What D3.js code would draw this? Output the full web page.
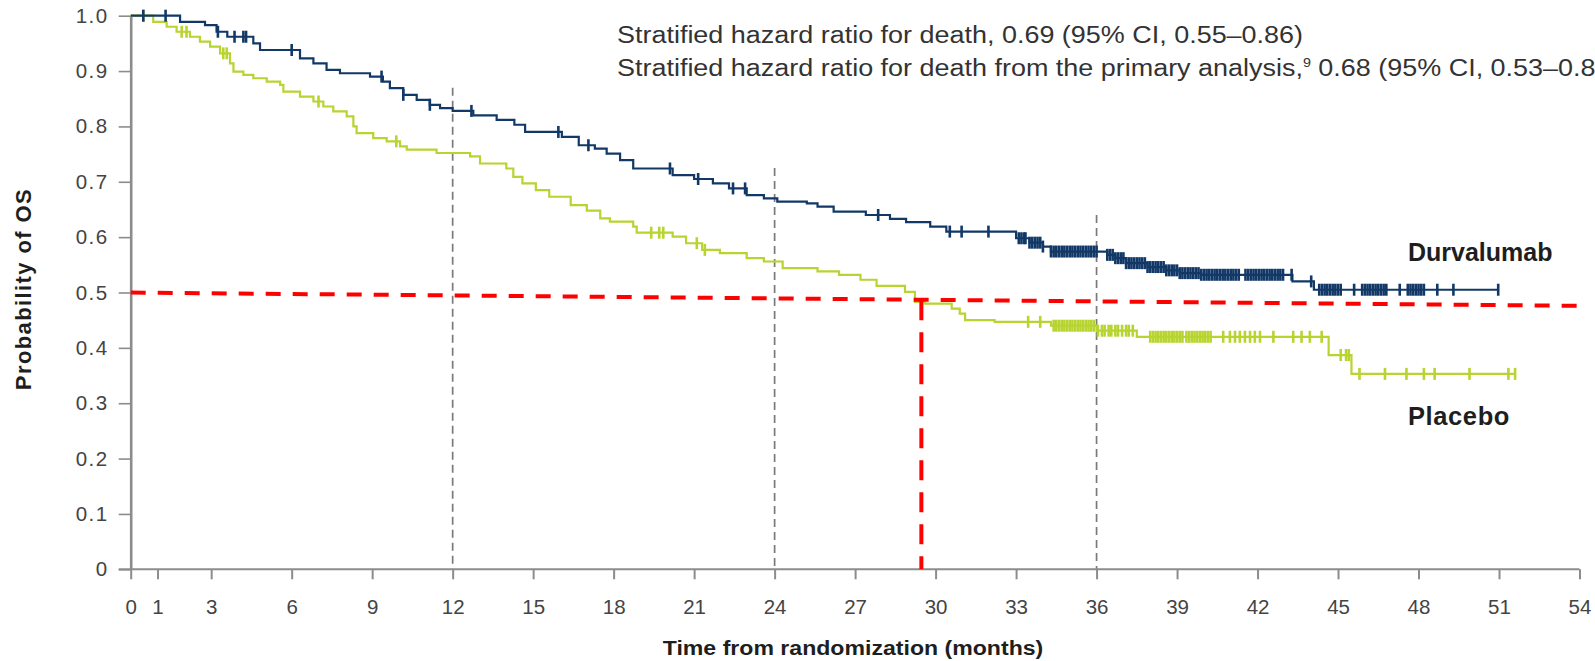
<!DOCTYPE html>
<html>
<head>
<meta charset="utf-8">
<script src="https://cdn.jsdelivr.net/npm/d3@7"></script>
<style>
  body { margin: 0; background: #fff; }
  text { font-family: "Liberation Sans", Arial, Helvetica, sans-serif; }
</style>
</head>
<body>
<svg id="chart"></svg>
<script>
const W = 1595, H = 661;

const xTicks = [0, 1, 3, 6, 9, 12, 15, 18, 21, 24, 27, 30, 33, 36, 39, 42, 45, 48, 51, 54];
const yTicks = [0, 0.1, 0.2, 0.3, 0.4, 0.5, 0.6, 0.7, 0.8, 0.9, 1.0];

// landmark months and where their dashed line starts (probability)
const landmarks = [12, 24, 36];
const landmarkTop = [0.87, 0.725, 0.64];

// [month, probability] after each step
const durvaSteps = [
  [0, 1.0], [1.84, 0.989], [2.77, 0.983], [3.2, 0.971], [3.6, 0.962], [4.57, 0.95], [4.82, 0.938],
  [6.31, 0.923], [6.81, 0.914], [7.3, 0.902], [7.8, 0.896], [8.92, 0.89], [9.4, 0.881], [9.66, 0.869],
  [10.16, 0.857], [10.66, 0.848], [11.15, 0.839], [11.53, 0.833], [12.0, 0.828], [12.77, 0.82],
  [13.64, 0.812], [14.3, 0.803], [14.7, 0.79], [16.07, 0.781], [16.7, 0.766], [17.3, 0.76],
  [17.74, 0.751], [18.24, 0.739], [18.73, 0.724], [20.2, 0.712], [21.0, 0.705], [21.7, 0.697],
  [22.3, 0.688], [22.96, 0.676], [23.6, 0.67], [24.1, 0.664], [25.2, 0.661], [25.6, 0.655],
  [26.2, 0.646], [27.4, 0.64], [28.3, 0.633], [28.9, 0.627], [29.8, 0.619], [30.4, 0.61],
  [33.0, 0.598], [33.5, 0.59], [34.0, 0.583], [34.3, 0.574], [36.4, 0.568], [36.7, 0.562],
  [37.1, 0.553], [37.9, 0.546], [38.6, 0.54], [39.1, 0.535], [39.9, 0.532], [43.3, 0.52], [44.1, 0.505]
];
const durvaEnd = 50.97;
const durvaCensor = [
  0.47, 1.3, 3.25, 3.87, 4.2, 4.3, 6.0, 9.35, 10.16, 11.15, 12.7, 15.94, 17.06, 20.1, 21.15, 22.45,
  22.9, 27.86, 30.53, 30.97, 31.97,
  33.1, 33.2, 33.3, 33.35, 33.5, 33.6, 33.7, 33.8, 33.9, 34.0,
  34.3, 34.4, 34.5, 34.6, 34.7, 34.8, 34.9, 35.0, 35.1, 35.2, 35.3, 35.4, 35.5, 35.6, 35.7, 35.8, 35.9, 36.0,
  36.4, 36.5, 36.6, 36.7, 36.8, 36.9, 37.0, 37.1, 37.2, 37.3, 37.4, 37.5, 37.6, 37.7, 37.8, 37.9,
  38.0, 38.1, 38.2, 38.3, 38.4, 38.5, 38.6, 38.7, 38.8, 38.9, 39.0, 39.1, 39.2, 39.3, 39.4, 39.5,
  39.6, 39.7, 39.8, 39.9, 40.0, 40.1, 40.2, 40.3, 40.4, 40.5, 40.6, 40.7, 40.8, 40.9, 41.0, 41.1,
  41.2, 41.3, 41.55, 41.65, 41.75, 41.85, 41.95, 42.05, 42.15, 42.25, 42.35, 42.45, 42.55, 42.65,
  42.75, 42.85, 42.95, 43.27, 44.0, 44.3, 44.4, 44.5, 44.6, 44.7, 44.8, 44.9, 45.0, 45.1, 45.6,
  45.9, 46.0, 46.1, 46.2, 46.3, 46.4, 46.5, 46.6, 46.7, 46.8, 47.3, 47.6, 47.7, 47.8, 47.9, 48.0,
  48.1, 48.2, 48.7, 49.3, 50.97
];

const placeboSteps = [
  [0, 1.0], [0.84, 0.989], [1.34, 0.98], [1.71, 0.971], [2.21, 0.962], [2.58, 0.953], [2.96, 0.944],
  [3.33, 0.932], [3.7, 0.914], [3.83, 0.899], [4.2, 0.893], [4.57, 0.887], [5.07, 0.881], [5.57, 0.875],
  [5.69, 0.863], [6.31, 0.854], [6.81, 0.845], [7.18, 0.836], [7.55, 0.827], [8.05, 0.818], [8.3, 0.8],
  [8.42, 0.788], [9.04, 0.779], [9.54, 0.773], [10.04, 0.764], [10.29, 0.758], [11.4, 0.752],
  [12.65, 0.746], [13.02, 0.733], [14.0, 0.724], [14.26, 0.709], [14.6, 0.697], [15.1, 0.685],
  [15.6, 0.673], [16.4, 0.658], [17.0, 0.648], [17.5, 0.634], [17.86, 0.628], [18.73, 0.619],
  [18.86, 0.608], [20.2, 0.601], [20.7, 0.589], [21.3, 0.577], [21.96, 0.571], [22.96, 0.562],
  [23.6, 0.556], [24.3, 0.544], [25.6, 0.538], [26.4, 0.532], [27.2, 0.523], [27.8, 0.512],
  [28.86, 0.501], [29.23, 0.483], [29.6, 0.48], [30.6, 0.471], [30.9, 0.462], [31.1, 0.45],
  [32.2, 0.447], [34.3, 0.44], [36.0, 0.431], [37.5, 0.42], [44.65, 0.387], [45.5, 0.353]
];
const placeboEnd = 51.6;
const placeboCensor = [
  0.47, 1.9, 2.08, 3.45, 3.58, 7.0, 9.9, 19.4, 19.7, 19.85, 21.1, 21.4, 33.45, 33.9,
  34.4, 34.5, 34.6, 34.7, 34.8, 34.9, 35.0, 35.1, 35.2, 35.3, 35.4, 35.5, 35.6, 35.7, 35.8, 35.9,
  36.05, 36.2, 36.3, 36.45, 36.55, 36.7, 36.8, 36.95, 37.1, 37.2, 37.35,
  38.0, 38.1, 38.2, 38.3, 38.4, 38.5, 38.6, 38.7, 38.8, 38.9, 39.0, 39.1, 39.2,
  39.35, 39.45, 39.55, 39.65, 39.75, 39.85, 39.95, 40.05, 40.15, 40.25,
  40.72, 40.97, 41.16, 41.34, 41.53, 41.72, 41.9, 42.09, 42.59, 43.33, 43.64, 43.95, 44.39,
  45.1, 45.3, 45.4, 45.8, 46.75, 47.55, 48.2, 48.6, 49.9, 51.35, 51.6
];

// red reference lines
const refLine = [[0, 0.5], [53.9, 0.476]];
const medianMark = [[29.47, 0.486], [29.47, 0]];

// second line is cut at the right edge in the source, as shown there
const hrLines = [
  "Stratified hazard ratio for death, 0.69 (95% CI, 0.55\u20130.86)",
  "Stratified hazard ratio for death from the primary analysis,"
];
const hrLine2Rest = " 0.68 (95% CI, 0.53\u20130.8";

const navy = "#113866", lime = "#b7d430", axisGrey = "#8c8c8c";

const svg = d3.select("#chart").attr("width", W).attr("height", H);

const x = d3.scaleLinear().domain([0, 54]).range([130.7, 1579.5]);
const y = d3.scaleLinear().domain([0, 1]).range([569.3, 15.7]);

// landmark dashed lines
svg.append("g").selectAll("line")
  .data(landmarks)
  .enter().append("line")
  .attr("x1", d => x(d)).attr("x2", d => x(d))
  .attr("y1", (_, i) => y(landmarkTop[i])).attr("y2", y(0))
  .attr("stroke", "#7a7a7a").attr("stroke-width", 1.7)
  .attr("stroke-dasharray", "8,5");

// axes
const yAxis = svg.append("g")
  .attr("transform", `translate(${x(0)},0)`)
  .call(d3.axisLeft(y).tickValues(yTicks).tickSize(12).tickSizeOuter(0).tickPadding(10)
    .tickFormat(d => d === 0 ? "0" : d3.format(".1f")(d)));
yAxis.select(".domain").attr("stroke", axisGrey).attr("stroke-width", 2.6);
yAxis.selectAll(".tick line").attr("stroke", axisGrey).attr("stroke-width", 1.6);
yAxis.selectAll(".tick text")
  .attr("fill", "#444").style("font-size", "20.5px").style("letter-spacing", "1.5px")
  .attr("font-family", null);

const xAxis = svg.append("g")
  .attr("transform", `translate(0,${y(0)})`)
  .call(d3.axisBottom(x).tickValues(xTicks).tickSize(10).tickSizeOuter(0).tickPadding(20));
xAxis.select(".domain").remove();
xAxis.append("line")
  .attr("x1", x(0) - 12).attr("x2", x(54))
  .attr("stroke", axisGrey).attr("stroke-width", 2);
xAxis.selectAll(".tick line").attr("stroke", axisGrey).attr("stroke-width", 2);
xAxis.selectAll(".tick text")
  .attr("fill", "#444").style("font-size", "20.5px").attr("font-family", null);

// survival curves
const line = d3.line().x(d => x(d[0])).y(d => y(d[1])).curve(d3.curveStepAfter);
const at = (steps, t) => {
  let v = steps[0][1];
  for (const s of steps) if (s[0] <= t) v = s[1];
  return v;
};

function drawArm(steps, end, censor, color) {
  const pts = steps.concat([[end, steps[steps.length - 1][1]]]);
  svg.append("path")
    .datum(pts)
    .attr("d", line)
    .attr("fill", "none")
    .attr("stroke", color)
    .attr("stroke-width", 2.2);
  svg.append("g").selectAll("line")
    .data(censor)
    .enter().append("line")
    .attr("x1", d => x(d)).attr("x2", d => x(d))
    .attr("y1", d => y(at(steps, d)) - 6).attr("y2", d => y(at(steps, d)) + 6)
    .attr("stroke", color).attr("stroke-width", 2.6);
}
drawArm(placeboSteps, placeboEnd, placeboCensor, lime);
drawArm(durvaSteps, durvaEnd, durvaCensor, navy);

// red reference lines
svg.append("line")
  .attr("x1", x(refLine[0][0])).attr("y1", y(refLine[0][1]))
  .attr("x2", x(refLine[1][0])).attr("y2", y(refLine[1][1]))
  .attr("stroke", "#ff0000").attr("stroke-width", 4).attr("stroke-dasharray", "15,12");
svg.append("line")
  .attr("x1", x(medianMark[0][0])).attr("y1", y(medianMark[0][1]))
  .attr("x2", x(medianMark[1][0])).attr("y2", y(medianMark[1][1]))
  .attr("stroke", "#ff0000").attr("stroke-width", 4).attr("stroke-dasharray", "20,12");

// arm labels
svg.append("text")
  .attr("x", 1408).attr("y", 261)
  .style("font-size", "25px").style("font-weight", "bold").attr("fill", "#1e1e1e")
  .text("Durvalumab");
svg.append("text")
  .attr("x", 1408).attr("y", 425)
  .style("font-size", "25.5px").style("font-weight", "bold").style("letter-spacing", "0.6px")
  .attr("fill", "#1e1e1e")
  .text("Placebo");

// hazard ratio text (slightly wide face in the original)
const hr = svg.append("text")
  .attr("transform", "translate(617,0) scale(1.1,1)")
  .style("font-size", "24.5px").attr("fill", "#333");
hr.append("tspan").attr("x", 0).attr("y", 43).text(hrLines[0]);
hr.append("tspan").attr("x", 0).attr("y", 76).text(hrLines[1]);
hr.append("tspan").attr("dy", -9).style("font-size", "13px").text("9");
hr.append("tspan").attr("dy", 9).text(hrLine2Rest);

// axis titles
svg.append("text")
  .attr("transform", "translate(853,655) scale(1.1,1)")
  .attr("text-anchor", "middle")
  .style("font-size", "21px").style("font-weight", "bold").attr("fill", "#1e1e1e")
  .text("Time from randomization (months)");
svg.append("text")
  .attr("transform", "translate(31,289) rotate(-90)")
  .attr("text-anchor", "middle")
  .style("font-size", "22px").style("font-weight", "bold").style("letter-spacing", "1.4px")
  .attr("fill", "#1e1e1e")
  .text("Probability of OS");
</script>
</body>
</html>
